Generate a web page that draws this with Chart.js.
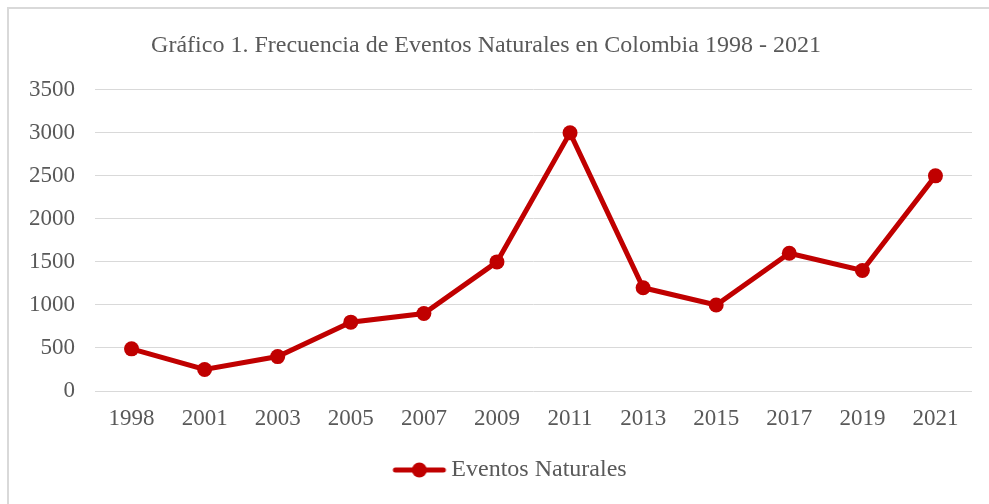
<!doctype html>
<html lang="es">
<head>
<meta charset="utf-8">
<title>Eventos Naturales</title>
<script src="https://cdn.jsdelivr.net/npm/chart.js"></script>
<style>
  body { margin: 0; background: #fff; }
  #wrap { position: relative; width: 989px; height: 504px; overflow: hidden; }
  #frame { position: absolute; left: 7px; top: 7px; width: 1000px; height: 520px; border: 2px solid #d9d9d9; box-sizing: border-box; }
  canvas { position: absolute; left: 0; top: 0; }
</style>
</head>
<body>
<div id="wrap">
  <div id="frame"></div>
  <canvas id="chart" width="989" height="504"></canvas>
</div>
<script>
// data
const years = ['1998', '2001', '2003', '2005', '2007', '2009', '2011', '2013', '2015', '2017', '2019', '2021'];
const eventos = [490, 250, 400, 800, 900, 1500, 3000, 1200, 1000, 1600, 1400, 2500];
const seriesName = 'Eventos Naturales';
const chartTitle = 'Gráfico 1. Frecuencia de Eventos Naturales en Colombia 1998 - 2021';

const red = '#C00000';
const grey = '#595959';
const serif = "'Liberation Serif', 'Times New Roman', serif";

// legend marker: line with a dot, drawn in the right part of a wider image
// so the legend item sits a bit right of centre like the original
function legendMarker() {
  const c = document.createElement('canvas');
  c.width = 112; c.height = 16;
  const g = c.getContext('2d');
  g.strokeStyle = red;
  g.lineWidth = 5;
  g.lineCap = 'round';
  g.beginPath(); g.moveTo(59, 8); g.lineTo(107, 8); g.stroke();
  g.fillStyle = red;
  g.beginPath(); g.arc(83, 8, 7.5, 0, Math.PI * 2); g.fill();
  return c;
}
const marker = legendMarker();

const ctx = document.getElementById('chart').getContext('2d');
new Chart(ctx, {
  type: 'line',
  data: {
    labels: years,
    datasets: [{
      label: seriesName,
      data: eventos,
      borderColor: red,
      backgroundColor: red,
      borderWidth: 5,
      pointRadius: 7.5,
      pointHoverRadius: 7.5,
      pointBackgroundColor: red,
      pointBorderWidth: 0,
      tension: 0
    }]
  },
  options: {
    responsive: false,
    animation: false,
    layout: { padding: { left: 0, right: 17, top: 0, bottom: 12 } },
    plugins: {
      title: {
        display: true,
        text: chartTitle,
        color: grey,
        font: { family: serif, size: 24, weight: 'normal' },
        padding: { top: 31, bottom: 30 }
      },
      legend: {
        position: 'bottom',
        labels: {
          color: grey,
          font: { family: serif, size: 24 },
          usePointStyle: true,
          pointStyleWidth: 94,
          padding: 10,
          generateLabels: function(chart) {
            return chart.data.datasets.map((ds, i) => ({
              text: ds.label,
              pointStyle: marker,
              fillStyle: red,
              strokeStyle: red,
              lineWidth: 0,
              fontColor: grey,
              datasetIndex: i
            }));
          }
        }
      },
      tooltip: { enabled: false }
    },
    scales: {
      x: {
        offset: true,
        grid: { display: false, drawTicks: false },
        border: { display: false },
        ticks: { color: grey, font: { family: serif, size: 23 }, padding: 14, maxRotation: 0 },
        afterFit: function(scale) { scale.height = 57; }
      },
      y: {
        min: 0,
        max: 3500,
        grid: { color: '#d9d9d9', lineWidth: 1, drawTicks: false },
        border: { display: false },
        ticks: {
          stepSize: 500,
          color: grey,
          font: { family: serif, size: 23 },
          padding: 20,
          callback: function(v) { return String(v); }
        },
        afterFit: function(scale) { scale.width = 95; }
      }
    }
  }
});
</script>
</body>
</html>
